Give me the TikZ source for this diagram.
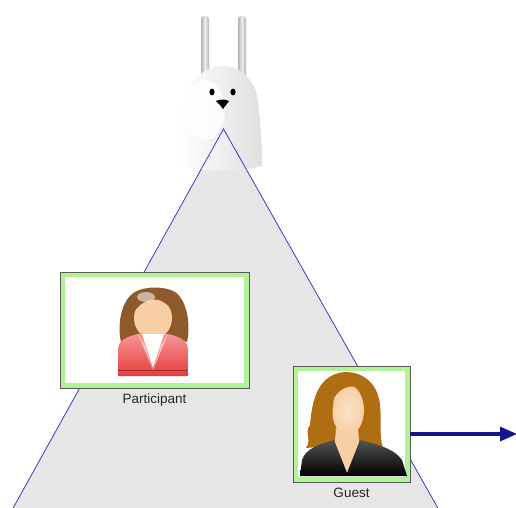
\documentclass[tikz,border=0pt]{standalone}
\usepackage{fontspec}
\setmainfont{Liberation Sans}
\usetikzlibrary{arrows.meta}
\definecolor{zonefill}{HTML}{E6E6E6}
\definecolor{zoneline}{HTML}{3A3ACF}
\definecolor{framegreen}{HTML}{B2F296}
\definecolor{framedark}{HTML}{5A5A5A}
\definecolor{flowblue}{HTML}{14148C}
\definecolor{skin}{HTML}{F8CFA4}
\definecolor{hairA}{HTML}{8E5A2C}
\definecolor{hairB}{HTML}{B06E12}
\definecolor{jacketA}{HTML}{F79696}
\definecolor{jacketB}{HTML}{E63C3C}
\tikzset{
  actorframe/.style={draw=framedark, line width=0.9pt, fill=framegreen, inner sep=0pt},
  actorlabel/.style={font=\fontsize{13.5}{15}\selectfont, text=black!85, inner sep=0pt},
  zoneedge/.style={draw=zoneline, line width=0.8pt},
  flow/.style={draw=flowblue, line width=3.2pt, -{Triangle[length=17pt,width=14pt]}},
}
\begin{document}
\begin{tikzpicture}[x=1pt,y=-1pt]
\useasboundingbox (0,0) rectangle (516,507);
\fill[white] (0,0) rectangle (516,507);

% zone triangle, apex under the mascot
\coordinate (apex) at (223.5,129);
\coordinate (bl) at (12,510);
\coordinate (br) at (439,510);
\fill[zonefill] (apex) -- (bl) -- (br) -- cycle;

% mascot: ears
\foreach \ex in {205,242}{
  \shade[left color=gray!60, right color=gray!60, middle color=white!85!gray, rounded corners=3pt]
    (\ex-4,16) rectangle (\ex+4,80);
}
% mascot: body
\shade[left color=white, right color=gray!25, shading angle=90]
  (180,166) .. controls (179,130) and (181,100) .. (190,86)
  .. controls (200,70) and (214,66) .. (222,66)
  .. controls (238,66) and (252,76) .. (257,95)
  .. controls (260,115) and (262,140) .. (262,166)
  .. controls (240,172) and (200,172) .. (180,166) -- cycle;
\fill[white, opacity=0.8] (205,110) ellipse (20pt and 30pt);
% mascot: eyes and beak
\fill[black] (212,92) ellipse (2.6pt and 3.4pt);
\fill[black] (233,92) ellipse (2.6pt and 3.4pt);
\fill[black] (216,101) .. controls (220,99) and (225,99) .. (229,101)
  .. controls (227,104) and (225,106) .. (223,109) .. controls (221,106) and (219,104) .. (216,101) -- cycle;

% zone outline on top of the mascot
\draw[zoneedge] (bl) -- (apex) -- (br);

% participant card
\node[actorframe, minimum width=189pt, minimum height=116pt] (participant) at (154.5,330) {};
\fill[white] ([shift={(5.5,5.5)}]participant.north west) rectangle ([shift={(-5.5,-5.5)}]participant.south east);
\node[actorlabel, anchor=north] (participantlabel) at ([yshift=-5pt]participant.south) {Participant};

% participant figure
\fill[hairA] (121,342) .. controls (117,325) and (121,300) .. (135,292)
  .. controls (145,286) and (165,286) .. (175,292)
  .. controls (187,300) and (191,325) .. (187,342)
  .. controls (175,338) and (133,338) .. (121,342) -- cycle;
\fill[skin] (147,330) rectangle (160,345);
\fill[skin] (153,318) ellipse (19pt and 21pt);
\fill[hairA] (133,314) .. controls (133,296) and (147,289) .. (155,289)
  .. controls (165,289) and (175,298) .. (174,314)
  .. controls (168,302) and (158,298) .. (152,300)
  .. controls (144,301) and (137,306) .. (133,314) -- cycle;
\fill[white, opacity=0.55] (146,297) ellipse (9pt and 5pt);
\shade[top color=jacketA, bottom color=jacketB]
  (118,376) -- (118,350) .. controls (118,341) and (125,337) .. (138,334)
  -- (168,334) .. controls (181,337) and (188,341) .. (188,350) -- (188,376) -- cycle;
\fill[jacketA!60!white] (138,334) -- (153,370) -- (145,345) -- cycle;
\fill[jacketA!60!white] (168,334) -- (153,370) -- (161,345) -- cycle;
\fill[white] (142,334) -- (153,368) -- (164,334) -- cycle;
\draw[jacketB!70!black, line width=0.5pt] (118,370) -- (188,370);

% guest card
\node[actorframe, minimum width=117pt, minimum height=116pt] (guest) at (351.5,424) {};
\fill[white] ([shift={(5.5,5.5)}]guest.north west) rectangle ([shift={(-5.5,-5.5)}]guest.south east);
\node[actorlabel, anchor=north] (guestlabel) at ([yshift=-5pt]guest.south) {Guest};

% guest figure
\fill[hairB] (345,372) .. controls (365,372) and (378,385) .. (380,405)
  .. controls (382,425) and (378,440) .. (385,452)
  .. controls (370,452) and (360,448) .. (350,446)
  .. controls (335,450) and (320,446) .. (306,448)
  .. controls (312,440) and (304,432) .. (310,425)
  .. controls (312,400) and (318,374) .. (345,372) -- cycle;
\fill[skin] (336,428) -- (358,428) -- (360,455) -- (347,472) -- (334,455) -- cycle;
\shade[inner color=skin!60!white, outer color=skin] (348,410) ellipse (16pt and 25pt);
\fill[hairB] (332,386) .. controls (338,378) and (352,378) .. (360,388)
  .. controls (350,384) and (340,388) .. (334,398)
  .. controls (332,410) and (332,420) .. (334,432)
  .. controls (328,425) and (326,400) .. (332,386) -- cycle;
\shade[top color=gray!65!black, bottom color=black]
  (300,476) -- (302,460) .. controls (306,448) and (320,444) .. (334,440)
  -- (347,473) -- (360,440) .. controls (375,444) and (394,448) .. (402,460)
  -- (407,476) -- cycle;

% outgoing flow
\coordinate (flowend) at (517,434);
\draw[flow] (guest.east |- 0,434) -- (flowend);
\end{tikzpicture}
\end{document}
